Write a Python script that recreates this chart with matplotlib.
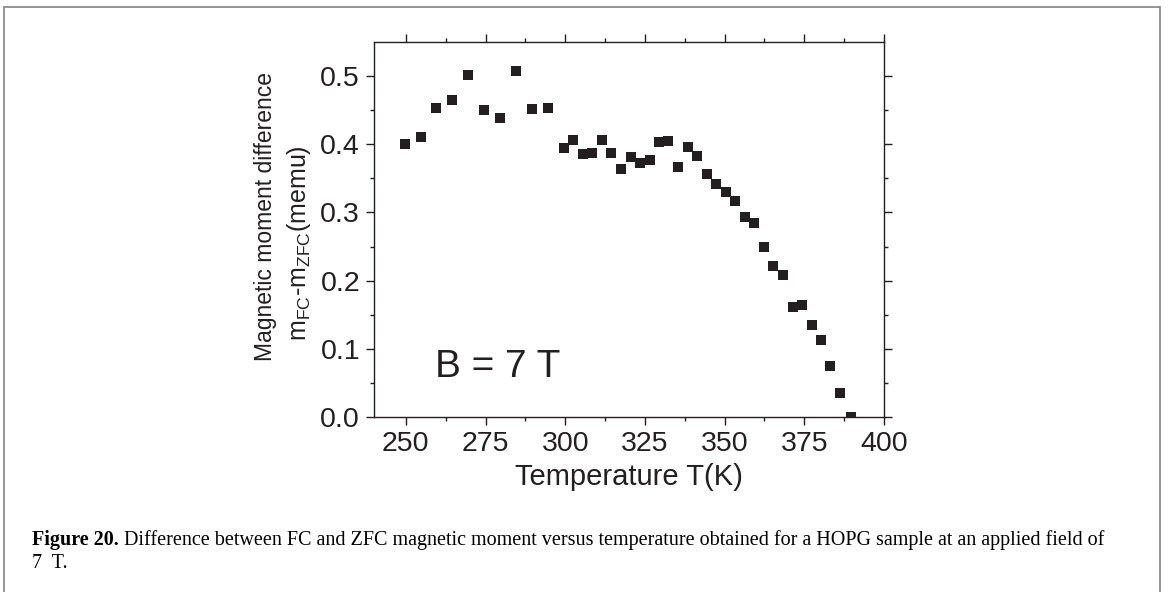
import matplotlib
matplotlib.use("Agg")
import matplotlib.pyplot as plt
from matplotlib.patches import Rectangle
from matplotlib.ticker import MultipleLocator, FormatStrFormatter

# temperatures (K) and m_FC - m_ZFC (memu)
temp = [249.7, 254.6, 259.6, 264.6, 269.5, 274.6, 279.6, 284.6, 289.5, 294.7,
        299.7, 302.5, 305.5, 308.4, 311.5, 314.5, 317.5, 320.5, 323.5, 326.5,
        329.5, 332.4, 335.4, 338.4, 341.5, 344.4, 347.4, 350.4, 353.3, 356.3,
        359.3, 362.3, 365.3, 368.4, 371.4, 374.4, 377.3, 380.3, 383.2, 386.3,
        389.6]
dm = [0.400, 0.410, 0.453, 0.465, 0.501, 0.450, 0.438, 0.507, 0.451, 0.453,
      0.395, 0.406, 0.386, 0.387, 0.406, 0.387, 0.363, 0.381, 0.373, 0.377,
      0.403, 0.405, 0.366, 0.396, 0.383, 0.357, 0.342, 0.330, 0.317, 0.293,
      0.284, 0.250, 0.221, 0.209, 0.161, 0.164, 0.135, 0.113, 0.075, 0.036,
      0.001]

INK = '#231f20'

plt.rcParams['font.family'] = ['Liberation Sans', 'DejaVu Sans']
plt.rcParams['mathtext.fontset'] = 'custom'
plt.rcParams['mathtext.rm'] = 'Liberation Sans'
plt.rcParams['mathtext.it'] = 'Liberation Sans'

fig = plt.figure(figsize=(11.68, 5.92), dpi=100)
ax = fig.add_axes([0.3202, 0.2948, 0.4366, 0.6337])

ax.plot(temp, dm, 's', color=INK, markersize=6.5, markeredgewidth=0)

ax.set_xlim(240, 400)
ax.set_ylim(0.0, 0.549)
ax.xaxis.set_major_locator(MultipleLocator(25))
ax.xaxis.set_minor_locator(MultipleLocator(12.5))
ax.yaxis.set_major_locator(MultipleLocator(0.1))
ax.yaxis.set_minor_locator(MultipleLocator(0.05))
ax.yaxis.set_major_formatter(FormatStrFormatter('%.1f'))

for s in ax.spines.values():
    s.set_linewidth(1.0)
    s.set_color(INK)
ax.tick_params(which='both', direction='out', top=True, right=True,
               width=1.0, color=INK, labelsize=20.5, pad=4, labelcolor=INK)
ax.tick_params(which='major', length=6)
ax.tick_params(which='minor', length=3)

ax.set_xlabel('Temperature T(K)', fontsize=21, color=INK, labelpad=4)

# two-line y label
fig.text(0.2277, 0.635, 'Magnetic moment difference', rotation=90,
         ha='center', va='center', fontsize=16.5, color=INK)
fig.text(0.2560, 0.5895, r'm$_{\mathrm{FC}}$-m$_{\mathrm{ZFC}}$(memu)', rotation=90,
         ha='center', va='center', fontsize=18, color=INK)

ax.text(259.1, 0.059, 'B = 7 T', fontsize=28, ha='left', va='baseline', color=INK)

# frame around the figure (bottom edge falls outside the picture)
fig.add_artist(Rectangle((4 / 1168, -0.05), (1160 - 4) / 1168, 1 - 7 / 592 + 0.05,
                         transform=fig.transFigure, fill=False,
                         edgecolor='#8c8c8c', linewidth=1.3))

# caption
cap = fig.text(32 / 1168, 1 - 545 / 592, 'Figure 20.', fontsize=14.5,
               fontweight='bold', family='Liberation Serif',
               ha='left', va='baseline')
fig.text(0, 0, ' Difference between FC and ZFC magnetic moment versus temperature '
         'obtained for a HOPG sample at an applied field of',
         fontsize=14.5, family='Liberation Serif', ha='left', va='baseline',
         transform=matplotlib.transforms.offset_copy(
             cap.get_transform(), fig=fig, x=0, y=0))
fig.text(32 / 1168, 1 - 568 / 592, '7  T.', fontsize=14.5,
         family='Liberation Serif', ha='left', va='baseline')

# place the regular caption text right after the bold part
fig.canvas.draw()
bb = cap.get_window_extent()
fig.texts[-2].set_transform(fig.transFigure)
fig.texts[-2].set_position((bb.x1 / fig.bbox.width, 1 - 545 / 592))

fig.savefig('out.png', dpi=100)
